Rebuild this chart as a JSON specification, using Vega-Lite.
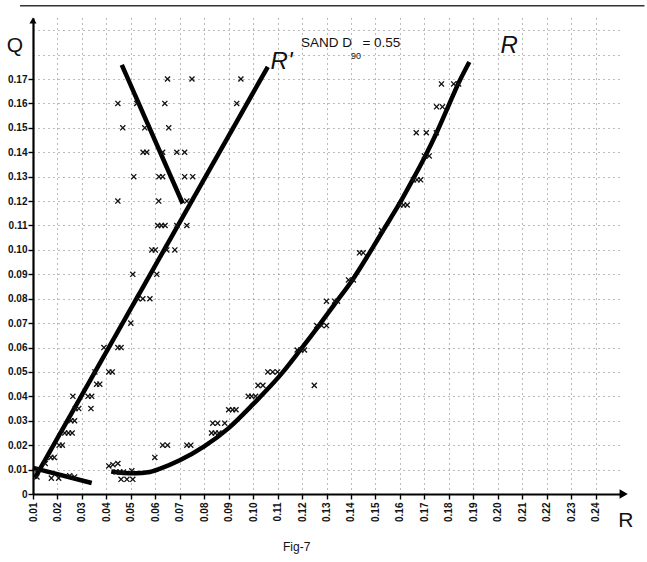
{
  "$schema": "https://vega.github.io/schema/vega-lite/v6.json",
  "width": 587,
  "height": 476,
  "autosize": "none",
  "padding": {"left": 33, "top": 18, "right": 27, "bottom": 68},
  "background": "white",
  "config": {"view": {"stroke": null}},
  "datasets": {
    "pts": [
      {"R":0.065,"Q":0.17},{"R":0.075,"Q":0.17},{"R":0.095,"Q":0.17},
      {"R":0.0447,"Q":0.16},{"R":0.0524,"Q":0.16},{"R":0.0639,"Q":0.16},{"R":0.0933,"Q":0.16},
      {"R":0.0467,"Q":0.15},{"R":0.0557,"Q":0.15},{"R":0.0655,"Q":0.15},
      {"R":0.055,"Q":0.14},{"R":0.0565,"Q":0.14},{"R":0.063,"Q":0.14},{"R":0.0688,"Q":0.14},{"R":0.072,"Q":0.14},
      {"R":0.0512,"Q":0.13},{"R":0.0615,"Q":0.13},{"R":0.063,"Q":0.13},{"R":0.072,"Q":0.13},{"R":0.0753,"Q":0.13},
      {"R":0.0447,"Q":0.12},{"R":0.0614,"Q":0.12},{"R":0.0729,"Q":0.12},
      {"R":0.061,"Q":0.11},{"R":0.0625,"Q":0.11},{"R":0.064,"Q":0.11},{"R":0.0688,"Q":0.11},{"R":0.0729,"Q":0.11},
      {"R":0.0586,"Q":0.10},{"R":0.060,"Q":0.10},{"R":0.0647,"Q":0.10},{"R":0.068,"Q":0.10},
      {"R":0.0508,"Q":0.09},{"R":0.0606,"Q":0.09},
      {"R":0.0529,"Q":0.08},{"R":0.0549,"Q":0.08},{"R":0.0578,"Q":0.08},
      {"R":0.050,"Q":0.07},
      {"R":0.039,"Q":0.06},{"R":0.0447,"Q":0.06},{"R":0.046,"Q":0.06},
      {"R":0.0353,"Q":0.05},{"R":0.041,"Q":0.05},{"R":0.0424,"Q":0.05},
      {"R":0.036,"Q":0.045},{"R":0.0373,"Q":0.045},
      {"R":0.0263,"Q":0.04},{"R":0.0325,"Q":0.04},{"R":0.034,"Q":0.04},
      {"R":0.0273,"Q":0.035},{"R":0.0287,"Q":0.035},{"R":0.0337,"Q":0.035},
      {"R":0.0255,"Q":0.03},{"R":0.027,"Q":0.03},
      {"R":0.023,"Q":0.025},{"R":0.0245,"Q":0.025},{"R":0.026,"Q":0.025},
      {"R":0.0207,"Q":0.02},{"R":0.022,"Q":0.02},
      {"R":0.0173,"Q":0.015},{"R":0.0187,"Q":0.015},
      {"R":0.015,"Q":0.0125},
      {"R":0.012,"Q":0.01},{"R":0.0116,"Q":0.007},
      {"R":0.0175,"Q":0.0065},{"R":0.0205,"Q":0.0065},
      {"R":0.025,"Q":0.0075},{"R":0.027,"Q":0.007},
      {"R":0.041,"Q":0.0115},{"R":0.0427,"Q":0.012},{"R":0.0447,"Q":0.0125},
      {"R":0.044,"Q":0.009},{"R":0.0455,"Q":0.009},{"R":0.047,"Q":0.009},{"R":0.0504,"Q":0.0095},
      {"R":0.046,"Q":0.006},{"R":0.0484,"Q":0.006},{"R":0.0508,"Q":0.006},
      {"R":0.0598,"Q":0.015},
      {"R":0.063,"Q":0.02},{"R":0.065,"Q":0.02},{"R":0.0729,"Q":0.02},{"R":0.0745,"Q":0.02},
      {"R":0.083,"Q":0.025},{"R":0.0845,"Q":0.025},{"R":0.086,"Q":0.025},
      {"R":0.0835,"Q":0.029},{"R":0.0855,"Q":0.029},{"R":0.0884,"Q":0.029},
      {"R":0.090,"Q":0.0345},{"R":0.0916,"Q":0.0345},{"R":0.093,"Q":0.0345},
      {"R":0.098,"Q":0.04},{"R":0.0994,"Q":0.04},{"R":0.101,"Q":0.04},
      {"R":0.102,"Q":0.0445},{"R":0.104,"Q":0.0445},
      {"R":0.106,"Q":0.05},{"R":0.108,"Q":0.05},{"R":0.110,"Q":0.05},
      {"R":0.125,"Q":0.0445},
      {"R":0.118,"Q":0.059},{"R":0.1195,"Q":0.059},{"R":0.121,"Q":0.059},
      {"R":0.126,"Q":0.069},{"R":0.128,"Q":0.069},{"R":0.130,"Q":0.069},
      {"R":0.130,"Q":0.079},{"R":0.1333,"Q":0.079},{"R":0.1345,"Q":0.079},
      {"R":0.139,"Q":0.0877},{"R":0.141,"Q":0.0877},
      {"R":0.1435,"Q":0.0988},{"R":0.145,"Q":0.0988},
      {"R":0.1525,"Q":0.108},
      {"R":0.160,"Q":0.1184},{"R":0.1615,"Q":0.1184},{"R":0.163,"Q":0.1184},
      {"R":0.1655,"Q":0.1287},{"R":0.167,"Q":0.1287},{"R":0.1685,"Q":0.1287},
      {"R":0.170,"Q":0.1385},{"R":0.172,"Q":0.1385},
      {"R":0.1667,"Q":0.148},{"R":0.1708,"Q":0.148},{"R":0.1749,"Q":0.148},
      {"R":0.175,"Q":0.1586},{"R":0.1774,"Q":0.1586},
      {"R":0.177,"Q":0.168},{"R":0.182,"Q":0.168},{"R":0.184,"Q":0.168}
    ],
    "lines": [
      {"s":"Rp","o":1,"R":0.0108,"Q":0.0066},{"s":"Rp","o":2,"R":0.106,"Q":0.175},
      {"s":"D","o":1,"R":0.0463,"Q":0.1758},{"s":"D","o":2,"R":0.0712,"Q":0.119},
      {"s":"L","o":1,"R":0.010,"Q":0.0107},{"s":"L","o":2,"R":0.034,"Q":0.0045},
      {"s":"C","o":1,"R":0.042,"Q":0.0092},{"s":"C","o":2,"R":0.047,"Q":0.0086},
      {"s":"C","o":3,"R":0.052,"Q":0.0085},{"s":"C","o":4,"R":0.057,"Q":0.0089},
      {"s":"C","o":5,"R":0.062,"Q":0.0104},{"s":"C","o":6,"R":0.070,"Q":0.0138},
      {"s":"C","o":7,"R":0.080,"Q":0.0195},{"s":"C","o":8,"R":0.090,"Q":0.027},
      {"s":"C","o":9,"R":0.100,"Q":0.0368},{"s":"C","o":10,"R":0.1119,"Q":0.0496},
      {"s":"C","o":11,"R":0.1193,"Q":0.059},{"s":"C","o":12,"R":0.1269,"Q":0.069},
      {"s":"C","o":13,"R":0.134,"Q":0.0787},{"s":"C","o":14,"R":0.1406,"Q":0.0877},
      {"s":"C","o":15,"R":0.1476,"Q":0.0988},{"s":"C","o":16,"R":0.1533,"Q":0.1082},
      {"s":"C","o":17,"R":0.1595,"Q":0.1184},{"s":"C","o":18,"R":0.1652,"Q":0.1287},
      {"s":"C","o":19,"R":0.1704,"Q":0.1385},{"s":"C","o":20,"R":0.1752,"Q":0.1484},
      {"s":"C","o":21,"R":0.1797,"Q":0.1586},{"s":"C","o":22,"R":0.184,"Q":0.1684},
      {"s":"C","o":23,"R":0.1884,"Q":0.177}
    ]
  },
  "encoding": {
    "x": {
      "field": "R", "type": "quantitative",
      "scale": {"domain": [0.01, 0.25], "nice": false, "zero": false},
      "axis": {
        "title": null,
        "values": [0.01,0.02,0.03,0.04,0.05,0.06,0.07,0.08,0.09,0.10,0.11,0.12,0.13,0.14,0.15,0.16,0.17,0.18,0.19,0.20,0.21,0.22,0.23,0.24],
        "format": ".2f",
        "labelAngle": -90, "labelAlign": "right", "labelBaseline": "middle",
        "labelFlush": false, "labelOverlap": false, "labelPadding": 3,
        "labelFont": "Liberation Sans", "labelFontSize": 10, "labelFontWeight": "bold", "labelColor": "#111",
        "domainColor": "#000", "domainWidth": 2.2,
        "tickColor": "#000", "tickSize": 5, "tickWidth": 1.4,
        "grid": true, "gridColor": "#777", "gridDash": [1, 4], "gridWidth": 1
      }
    },
    "y": {
      "field": "Q", "type": "quantitative",
      "scale": {"domain": [0, 0.195], "nice": false, "zero": true},
      "axis": {
        "title": null,
        "values": [0,0.01,0.02,0.03,0.04,0.05,0.06,0.07,0.08,0.09,0.10,0.11,0.12,0.13,0.14,0.15,0.16,0.17,0.18,0.19],
        "labelExpr": "datum.value > 0.175 ? '' : (datum.value < 0.001 ? '0' : format(datum.value, '.2f'))",
        "labelFlush": false, "labelOverlap": false, "labelPadding": 1,
        "labelFont": "Liberation Sans", "labelFontSize": 10, "labelFontWeight": "bold", "labelColor": "#111",
        "domainColor": "#000", "domainWidth": 2.2,
        "tickColor": "#000", "tickSize": 5, "tickWidth": 1.4,
        "tickOpacity": {"condition": {"test": "datum.value > 0.175", "value": 0}, "value": 1},
        "grid": true, "gridColor": "#777", "gridDash": [1, 4], "gridWidth": 1
      }
    }
  },
  "layer": [
    {
      "data": {"values": [{"R": 0.0047, "R2": 0.26, "Q": 0.2}]},
      "mark": {"type": "rule", "color": "#333", "strokeWidth": 1.5, "clip": false},
      "encoding": {"x2": {"field": "R2"}}
    },
    {
      "data": {"name": "lines"},
      "mark": {"type": "line", "color": "#000", "strokeWidth": 4.5, "strokeCap": "butt", "interpolate": "monotone"},
      "encoding": {"detail": {"field": "s"}, "order": {"field": "o", "type": "quantitative"}}
    },
    {
      "data": {"name": "pts"},
      "mark": {"type": "point", "shape": "M-1,-1L1,1M-1,1L1,-1", "filled": false, "stroke": "#111", "strokeWidth": 1.3, "size": 26, "opacity": 1}
    },
    {
      "data": {"values": [{"R": 0.2515, "Q": 0}]},
      "mark": {"type": "point", "shape": "triangle-right", "filled": true, "color": "#000", "size": 90, "opacity": 1, "clip": false}
    },
    {
      "data": {"values": [{"R": 0.01, "Q": 0.194}]},
      "mark": {"type": "point", "shape": "triangle-up", "filled": true, "color": "#000", "size": 50, "opacity": 1, "clip": false}
    },
    {
      "data": {"values": [{"R": 0.1196, "Q": 0.1848, "t": "SAND D"}, {"R": 0.1447, "Q": 0.1848, "t": "= 0.55"}]},
      "mark": {"type": "text", "align": "left", "baseline": "middle", "font": "Liberation Sans", "fontSize": 13.5, "color": "#111"},
      "encoding": {"text": {"field": "t"}}
    },
    {
      "data": {"values": [{"R": 0.1400, "Q": 0.1795, "t": "90"}]},
      "mark": {"type": "text", "align": "left", "baseline": "middle", "font": "Liberation Sans", "fontSize": 9, "color": "#111"},
      "encoding": {"text": {"field": "t"}}
    },
    {
      "data": {"values": [{"R": 0.1116, "Q": 0.177, "t": "R'"}, {"R": 0.2047, "Q": 0.1836, "t": "R"}]},
      "mark": {"type": "text", "align": "center", "baseline": "middle", "font": "Liberation Sans", "fontSize": 24, "fontStyle": "italic", "color": "#111"},
      "encoding": {"text": {"field": "t"}}
    },
    {
      "data": {"values": [{"R": 0.00265, "Q": 0.1836, "t": "Q"}, {"R": 0.2524, "Q": -0.0111, "t": "R"}]},
      "mark": {"type": "text", "align": "center", "baseline": "middle", "font": "Liberation Sans", "fontSize": 21, "color": "#111", "clip": false},
      "encoding": {"text": {"field": "t"}}
    },
    {
      "data": {"values": [{"R": 0.1178, "Q": -0.0217, "t": "Fig-7"}]},
      "mark": {"type": "text", "align": "center", "baseline": "middle", "font": "Liberation Sans", "fontSize": 12, "color": "#111", "clip": false},
      "encoding": {"text": {"field": "t"}}
    }
  ]
}
